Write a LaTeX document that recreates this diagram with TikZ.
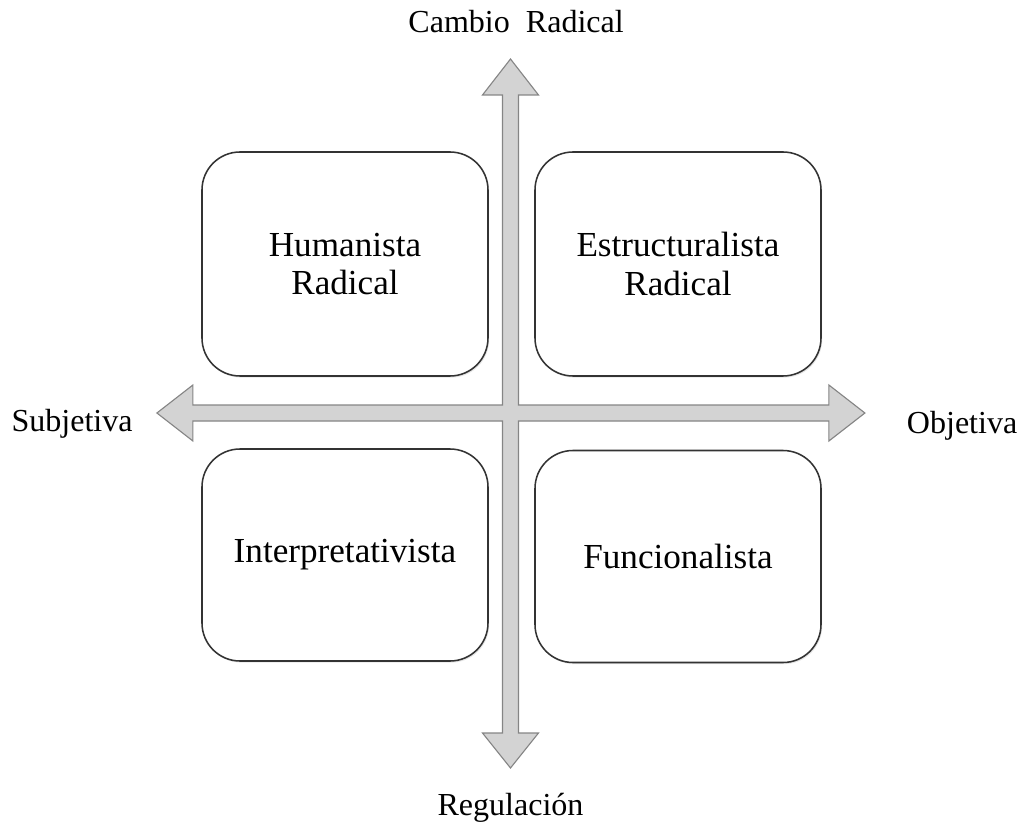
\documentclass[tikz,border=0pt]{standalone}
\usepackage{fontspec}
\setmainfont{Liberation Serif}
\usepackage{tikz}
\usetikzlibrary{
    calc,
    shadows
}
\definecolor{crossfill}{HTML}{D3D3D3}
\definecolor{crossline}{HTML}{858585}
\definecolor{boxline}{HTML}{333333}
\tikzset{
    % rounded boxes for the four paradigms
    quadrant/.style={
        draw=boxline, line width=1.1pt, fill=white,
        rounded corners=0.95cm, align=center,
        minimum width=7.15cm, minimum height=#1,
        font=\fontsize{25}{27.5}\selectfont,
        drop shadow={opacity=0.2, shadow xshift=0.03cm, shadow yshift=-0.04cm}
    },
    quadrant/.default=5.6cm,
    % labels at the ends of the axes
    axislabel/.style={font=\fontsize{22.8}{27}\selectfont, inner sep=0pt},
    % the two crossing block arrows
    crossarrow/.style={fill=crossfill, draw=crossline, line width=0.8pt, line join=miter}
}

\begin{document}
\begin{tikzpicture}
            \useasboundingbox (-12.7625,-10.575) rectangle (12.7875,10.325);
            % axes as one block shape
            \draw[crossarrow] (0,8.85) -- (0.7,7.95) -- (0.2,7.95) -- (0.2,0.2)
                -- (7.96,0.2) -- (7.96,0.7) -- (8.86,0) -- (7.96,-0.7) -- (7.96,-0.2)
                -- (0.2,-0.2) -- (0.2,-8.0) -- (0.7,-8.0) -- (0,-8.875) -- (-0.7,-8.0)
                -- (-0.2,-8.0) -- (-0.2,-0.2) -- (-7.94,-0.2) -- (-7.94,-0.7)
                -- (-8.84,0) -- (-7.94,0.7) -- (-7.94,0.2) -- (-0.2,0.2)
                -- (-0.2,7.95) -- (-0.7,7.95) -- cycle;
            \node[quadrant] (humanista) at (-4.1375,3.725) {Humanista\\Radical};
            \node[quadrant] (estructuralista) at (4.1875,3.725) {Estructuralista\\Radical};
            \node[quadrant=5.3cm] (interpretativista) at (-4.1375,-3.55) {Interpretativista};
            \node[quadrant=5.3cm] (funcionalista) at (4.1875,-3.5875) {Funcionalista};
            \node[axislabel] (cambio) at (0.14,9.775) {Cambio\ \ Radical};
            \node[axislabel] (regulacion) at (0,-9.875) {Regulación};
            \node[axislabel] (subjetiva) at (-10.96,-0.275) {Subjetiva};
            \node[axislabel] (objetiva) at (11.29,-0.33) {Objetiva};
        \end{tikzpicture}
\end{document}
